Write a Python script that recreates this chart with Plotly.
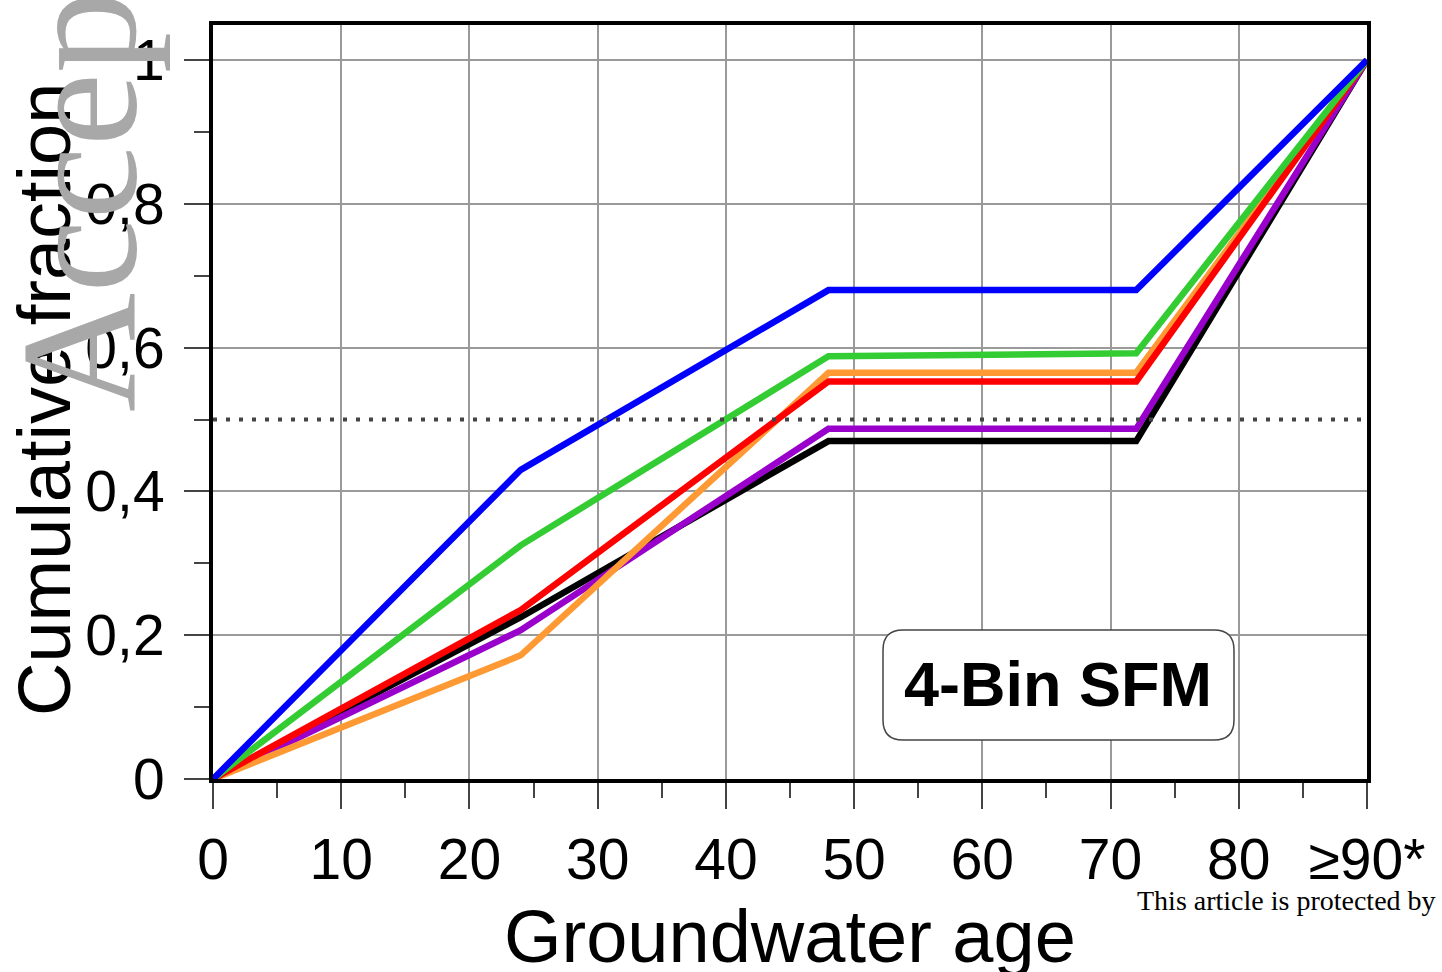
import plotly.graph_objects as go

# ---------------- data ----------------
ages = [0, 24, 48, 72, 90]
blue_vals = [0.0, 0.43, 0.68, 0.68, 1.0]
green_vals = [0.0, 0.325, 0.588, 0.592, 1.0]
red_vals = [0.0, 0.235, 0.553, 0.553, 1.0]
orange_vals = [0.0, 0.172, 0.565, 0.565, 1.0]
black_vals = [0.0, 0.225, 0.47, 0.47, 1.0]
purple_vals = [0.0, 0.207, 0.487, 0.487, 1.0]
median_level = 0.5

x_tickvals = [0, 10, 20, 30, 40, 50, 60, 70, 80, 90]
x_ticktext = ["0", "10", "20", "30", "40", "50", "60", "70", "80", "≥90*"]
y_tickvals = [0, 0.2, 0.4, 0.6, 0.8, 1.0]
y_ticktext = ["0", "0,2", "0,4", "0,6", "0,8", "1"]

SANS = "Liberation Sans, Arial, sans-serif"
SERIF = "Liberation Serif, Times New Roman, serif"

W, H = 1442, 972
L, R, T, B = 213, 75, 25, 193
PW, PH = W - L - R, H - T - B


def px_x(px):
    return (px - L) / PW


def px_y(py):
    return (H - B - py) / PH


fig = go.Figure()

series = [
    (black_vals, "#000000"),
    (purple_vals, "#9900cc"),
    (orange_vals, "#ff9933"),
    (red_vals, "#ff0000"),
    (green_vals, "#33cc33"),
    (blue_vals, "#0000ff"),
]
for vals, col in series:
    fig.add_trace(go.Scatter(x=ages, y=vals, mode="lines",
                             line=dict(color=col, width=6.5),
                             cliponaxis=False, showlegend=False,
                             hoverinfo="skip"))

fig.add_trace(go.Scatter(x=[ages[0], ages[-1]], y=[median_level, median_level],
                         mode="lines",
                         line=dict(color="#444444", width=4, dash="4px,9px"),
                         showlegend=False, hoverinfo="skip"))

axis_common = dict(
    showline=True, linewidth=4, linecolor="black", mirror=True,
    ticks="outside", tickwidth=2, tickcolor="#444444",
    showgrid=True, gridcolor="#9a9a9a", gridwidth=2,
    zeroline=False,
)

fig.update_xaxes(range=[0, 90], tickmode="array", tickvals=x_tickvals,
                 ticktext=x_ticktext, ticklen=26, ticklabelstandoff=2,
                 tickfont=dict(family=SANS, size=57, color="black"),
                 minor=dict(ticks="outside", ticklen=15, tickwidth=2,
                            tickcolor="#444444", dtick=5, tick0=0,
                            showgrid=False),
                 **axis_common)
fig.update_yaxes(range=[0, PH / 719], tickmode="array", tickvals=y_tickvals,
                 ticktext=y_ticktext, ticklen=25, ticklabelstandoff=8,
                 tickfont=dict(family=SANS, size=57, color="black"),
                 minor=dict(ticks="outside", ticklen=15, tickwidth=2,
                            tickcolor="#444444", dtick=0.1, tick0=0,
                            showgrid=False),
                 **axis_common)

# rounded label box
x0, x1 = px_x(883), px_x(1234)
y0, y1 = px_y(740), px_y(630)
rx, ry = 20 / PW, 20 / PH
path = (f"M {x0+rx},{y0} L {x1-rx},{y0} Q {x1},{y0} {x1},{y0+ry} "
        f"L {x1},{y1-ry} Q {x1},{y1} {x1-rx},{y1} "
        f"L {x0+rx},{y1} Q {x0},{y1} {x0},{y1-ry} "
        f"L {x0},{y0+ry} Q {x0},{y0} {x0+rx},{y0} Z")
fig.add_shape(type="path", path=path, xref="paper", yref="paper",
              line=dict(color="#444444", width=1.5), fillcolor="white")

annotations = [
    dict(text="<b>4-Bin SFM</b>", x=px_x(1058), y=px_y(684),
         font=dict(family=SANS, size=63, color="black")),
    dict(text="Groundwater age", x=px_x(790), y=px_y(936),
         font=dict(family=SANS, size=74, color="black")),
    dict(text="Cumulative fraction", x=px_x(45), y=px_y(400), textangle=-90,
         font=dict(family=SANS, size=74, color="black")),
    dict(text="Accep", x=px_x(80), y=px_y(202), textangle=-90,
         font=dict(family=SERIF, size=165, color="#a8a8a8")),
    dict(text="This article is protected by", x=px_x(1135), y=px_y(900),
         xanchor="left",
         font=dict(family=SERIF, size=28, color="black")),
]
for a in annotations:
    a.setdefault("xanchor", "center")
    a.setdefault("yanchor", "middle")
    fig.add_annotation(xref="paper", yref="paper", showarrow=False, **a)

fig.update_layout(width=W, height=H, margin=dict(l=L, r=R, t=T, b=B),
                  plot_bgcolor="white", paper_bgcolor="white")

fig.write_html("out.html")
